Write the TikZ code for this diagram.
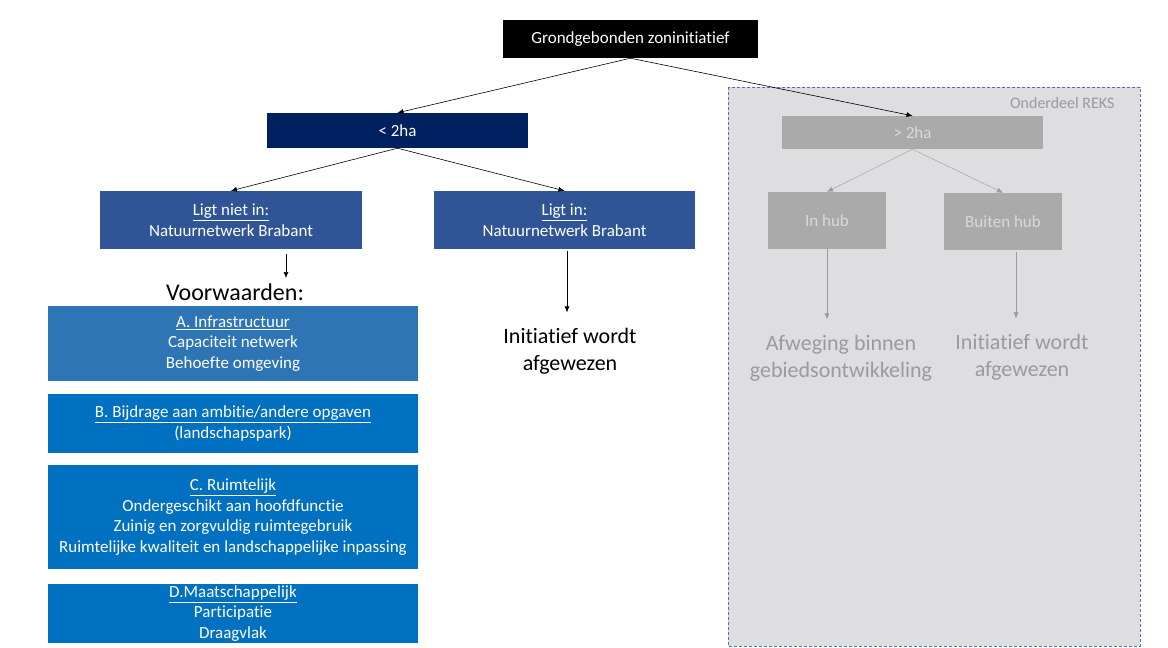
\documentclass[tikz,border=0pt]{standalone}
\usepackage{fontspec}
\setmainfont{Carlito}[Ligatures=NoCommon]
\usetikzlibrary{arrows.meta}

\definecolor{navy}{RGB}{0,32,96}
\definecolor{midblue}{RGB}{47,85,151}
\definecolor{condA}{RGB}{46,117,182}
\definecolor{condB}{RGB}{0,112,192}
\definecolor{reksfill}{RGB}{222,221,223}
\definecolor{reksline}{RGB}{80,115,175}
\definecolor{greybox}{RGB}{170,170,170}
\definecolor{greytext}{RGB}{155,155,155}

\tikzset{
    box/.style={inner sep=0pt, align=center, text=white,
        font=\fontsize{17}{20.5}\selectfont},
    arr/.style={-{Latex[length=6pt,width=5pt]}, line width=0.6pt},
    garr/.style={arr, draw=greytext},
    bigtext/.style={align=center, font=\fontsize{22}{27}\selectfont},
}

\begin{document}
\begin{tikzpicture}[x=1pt,y=-1pt]
    \useasboundingbox (0,0) rectangle (1168,648);

    % Draw the REKS area
    \draw[fill=reksfill, draw=reksline, dash pattern=on 3pt off 2pt, line width=1pt] (728,87) rectangle (1140,646);
    \node[text=greytext, anchor=east, font=\fontsize{16}{18}\selectfont] (reks) at (1118,103) {Onderdeel REKS};

    % Draw the top box
    \node[box, fill=black, minimum width=255, minimum height=38] (top) at (630.5,39) {Grondgebonden zoninitiatief};

    % Draw the size boxes
    \node[box, fill=navy, minimum width=261, minimum height=35] (small) at (397.5,130.5) {< 2ha};
    \node[box, fill=greybox, text=black!15, minimum width=261, minimum height=33] (large) at (912.5,132.5) {> 2ha};
    \draw[arr] (top.south) -- (small.north);
    \draw[arr] (top.south) -- (large.north);

    % Draw the Natuurnetwerk boxes
    \node[box, fill=midblue, minimum width=262, minimum height=58] (nietin) at (231,220) {\underline{Ligt niet in:}\\Natuurnetwerk Brabant};
    \node[box, fill=midblue, minimum width=261, minimum height=58] (welin) at (564.5,220) {\underline{Ligt in:}\\Natuurnetwerk Brabant};
    \draw[arr] (small.south) -- (nietin.north);
    \draw[arr] (small.south) -- (welin.north);

    % Draw the hub boxes
    \node[box, fill=greybox, text=black!15, minimum width=118, minimum height=57] (inhub) at (827,220.5) {In hub};
    \node[box, fill=greybox, text=black!15, minimum width=118, minimum height=57] (buiten) at (1003,221.5) {Buiten hub};
    \draw[garr, line width=0.4pt] (large.south) -- (inhub.north);
    \draw[garr, line width=0.4pt] (large.south) -- (buiten.north);

    % Draw the outcomes
    \node[bigtext, font=\fontsize{24}{28}\selectfont] (voorw) at (235,292) {Voorwaarden:};
    \coordinate (vtip) at (286,278);
    \draw[arr] ([yshift=-5]nietin.south -| vtip) -- (vtip);

    \node[bigtext] (afgew) at (570,351) {Initiatief wordt\\afgewezen};
    \draw[arr] ([yshift=-2]welin.south -| 567,0) -- ([yshift=12]afgew.north -| 567,0);

    \node[bigtext, text=greytext] (afweging) at (841,358) {Afweging binnen\\gebiedsontwikkeling};
    \node[bigtext, text=greytext] (afgew2) at (1022,357) {Initiatief wordt\\afgewezen};
    \draw[garr] (inhub.south) -- ([yshift=12]afweging.north -| inhub);
    \draw[garr] ([yshift=-2]buiten.south -| 1016,0) -- ([yshift=12]afgew2.north -| 1016,0);

    % Draw the conditions
    \node[box, fill=condA, minimum width=370, minimum height=75] (condA) at (233,343.5)
        {\underline{A. Infrastructuur}\\Capaciteit netwerk\\Behoefte omgeving};
    \node[box, fill=condB, minimum width=370, minimum height=59] (condB) at (233,423.5)
        {\underline{B. Bijdrage aan ambitie/andere opgaven}\\(landschapspark)};
    \node[box, fill=condB, minimum width=370, minimum height=104] (condC) at (233,517)
        {\underline{C. Ruimtelijk}\\Ondergeschikt aan hoofdfunctie\\Zuinig en zorgvuldig ruimtegebruik\\Ruimtelijke kwaliteit en landschappelijke inpassing};
    \node[box, fill=condB, minimum width=370, minimum height=59] (condD) at (233,613.5)
        {\underline{D.Maatschappelijk}\\Participatie\\Draagvlak};
\end{tikzpicture}
\end{document}
